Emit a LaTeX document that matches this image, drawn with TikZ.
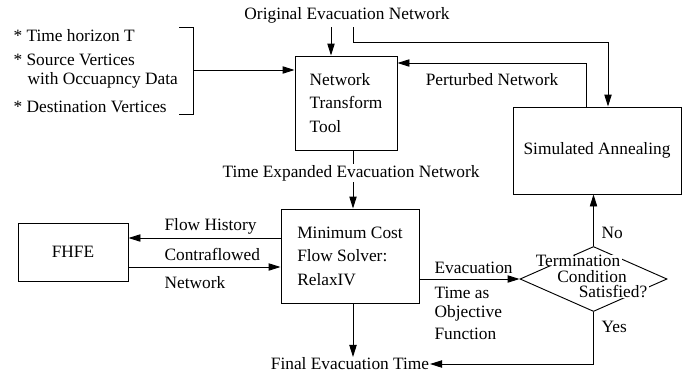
\documentclass[tikz,border=0pt]{standalone}
\usepackage{fontspec}
\setmainfont{Liberation Serif}
\usetikzlibrary{arrows.meta, shapes.geometric, calc}

\begin{document}
\begin{tikzpicture}[x=0.75pt, y=-0.75pt,
    every node/.style={font=\fontsize{13}{17.6}\selectfont},
    box/.style={draw, line width=0.7pt, align=left},
    lbl/.style={inner sep=1pt, align=left},
    cond/.style={fill=white, inner xsep=1pt, inner ysep=0pt},
    arr/.style={-{Triangle[length=9pt,width=5.5pt]}, line width=0.7pt},
    ln/.style={line width=0.7pt}]
   \useasboundingbox (0,0) rectangle (695,375);

   % blocks
   \node[box, minimum width=76.5pt, minimum height=70.5pt] (ntt) at (346,103) {Network\\Transform\\Tool};
   \node[box, minimum width=126pt, minimum height=65.25pt] (sa) at (597,150.5) {Simulated Annealing};
   \node[box, minimum width=103.5pt, minimum height=70.5pt] (mcf) at (350,256) {Minimum Cost\\Flow Solver:\\RelaxIV};
   \node[box, minimum width=82.5pt, minimum height=43.5pt] (fhfe) at (73,252) {FHFE};
   \node[draw, diamond, line width=0.7pt, inner sep=0pt, minimum width=110.25pt, minimum height=48.75pt] (term) at (593.5,279) {};

   % inputs
   \node[lbl, anchor=west] (hor) at (12,36) {* Time horizon T};
   \node[lbl, anchor=west] (src) at (12,60) {* Source Vertices};
   \node[lbl, anchor=west] (occ) at (26,80) {with Occuapncy Data};
   \node[lbl, anchor=west] (dst) at (12,107) {* Destination Vertices};
   \coordinate (bt) at (179,27);
   \coordinate (bb) at (179,114);
   \coordinate (brk) at (193,70);
   \draw[ln] (bt) -- (bt -| brk) -- (bb -| brk) -- (bb);
   \draw[arr] (brk) -- (brk -| ntt.west);

   % original network
   \node[lbl] (orig) at (347,15) {Original Evacuation Network};
   \coordinate (oa) at (331,27);
   \coordinate (ob) at (353,27);
   \coordinate (obk) at (608,42);
   \draw[arr] (oa) -- (oa |- ntt.north);
   \draw[arr] (ob) |- (obk) -- (obk |- sa.north);

   % perturbed network
   \coordinate (pt) at (586,63);
   \draw[arr] (pt |- sa.north) -- (pt) -- (pt -| ntt.east);
   \node[lbl] (ptl) at (492,80) {Perturbed Network};

   % time expanded network
   \coordinate (te) at (353,150);
   \draw[arr] (te) -- (te |- mcf.north);
   \node[lbl, fill=white] (tel) at (351,173) {Time Expanded Evacuation Network};

   % FHFE exchange
   \coordinate (fh) at (200,238);
   \coordinate (cf) at (200,267);
   \draw[arr] (fh -| mcf.west) -- (fh -| fhfe.east);
   \draw[arr] (cf -| fhfe.east) -- (cf -| mcf.west);
   \node[lbl, anchor=west] (fhl) at (163,226) {Flow History};
   \node[lbl, anchor=west] (cfl) at (163,254) {Contraflowed};
   \node[lbl, anchor=west] (cfl2) at (163,283) {Network};

   % evacuation time
   \draw[arr] (term.west -| mcf.east) -- (term.west);
   \node[lbl, anchor=west] (evl) at (433,268) {Evacuation};
   \node[lbl, anchor=west] (evl2) at (433,293) {Time as};
   \node[lbl, anchor=west] (evl3) at (433,313) {Objective};
   \node[lbl, anchor=west] (evl4) at (433,334) {Function};

   % termination test
   \node[cond] (tm1) at (578,260.5) {Termination};
   \node[cond] (tm2) at (592,276.5) {Condition};
   \node[cond] (tm3) at (613,291.5) {Satisfied?};
   \draw[arr] (term.north) -- (term.north |- sa.south);
   \node[lbl, anchor=west] (nol) at (600,233) {No};

   % final time
   \node[inner sep=0.5pt] (final) at (350,364) {Final Evacuation Time};
   \draw[arr] (mcf.south -| te) -- (final.north -| te);
   \draw[arr] (term.south) |- (final.east);
   \node[lbl, anchor=west] (yesl) at (600,327) {Yes};
\end{tikzpicture}
\end{document}
